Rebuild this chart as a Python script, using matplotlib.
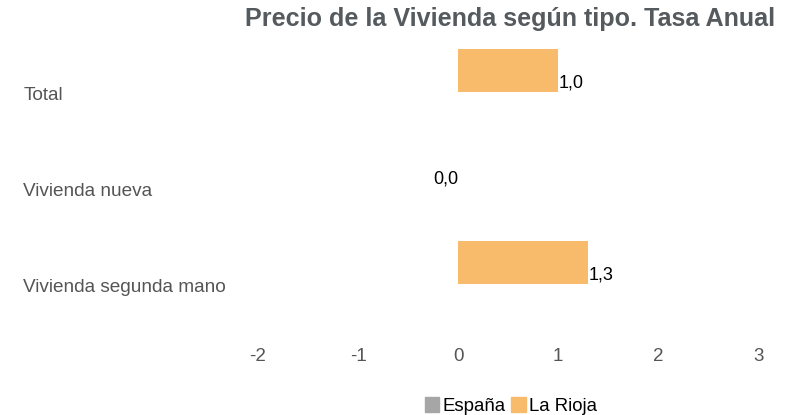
import numpy as np
import matplotlib.pyplot as plt
from matplotlib.patches import Patch

plt.rcParams['font.family'] = ['Liberation Sans', 'DejaVu Sans']

# Data
categories = ["Total", "Vivienda nueva", "Vivienda segunda mano"]
espana = [np.nan, np.nan, np.nan]
la_rioja = [1.0, 0.0, 1.3]
series_names = ["España", "La Rioja"]
colors = ["#a6a6a6", "#f8bb6c"]

fig = plt.figure(figsize=(7.94, 4.15), dpi=100)
ax = fig.add_axes([0.325, 0.2, 0.63, 0.694])

y = np.arange(len(categories))
h = 0.45
ax.barh(y + h / 2, espana, height=h, color=colors[0])
ax.barh(y - h / 2, la_rioja, height=h, color=colors[1])

# value labels
for yi, v in zip(y - h / 2, la_rioja):
    txt = f"{v:.1f}".replace(".", ",")
    if v > 0:
        ax.text(v, yi + 0.13, txt, ha="left", va="center", fontsize=13, color="black")
    else:
        ax.text(v, yi + 0.13, txt, ha="right", va="center", fontsize=13, color="black")

ax.set_xlim(-2, 3)
ax.set_ylim(2.5, -0.5)
ax.set_xticks([-2, -1, 0, 1, 2, 3])
ax.set_xticklabels(["-2", "-1", "0", "1", "2", "3"])
ax.set_yticks(y + 0.02)
ax.set_yticklabels(categories, ha="left")
ax.tick_params(axis="x", length=0, pad=11.5, labelsize=13.5, labelcolor="#555555")
ax.tick_params(axis="y", length=0, pad=169, labelsize=13.7, labelcolor="#555555")
for s in ax.spines.values():
    s.set_visible(False)

fig.text(0.643, 0.955, "Precio de la Vivienda según tipo. Tasa Anual",
         ha="center", va="center", fontsize=18.1, fontweight="bold", color="#555a5e")

handles = [Patch(color=c, label=n) for c, n in zip(colors, series_names)]
fig.legend(handles=handles, loc="lower center", bbox_to_anchor=(0.643, -0.04),
           ncol=2, frameon=False, fontsize=13.4, handlelength=0.8, handleheight=0.8,
           handletextpad=0.15, columnspacing=0.3)

fig.savefig("out.png", dpi=100)
